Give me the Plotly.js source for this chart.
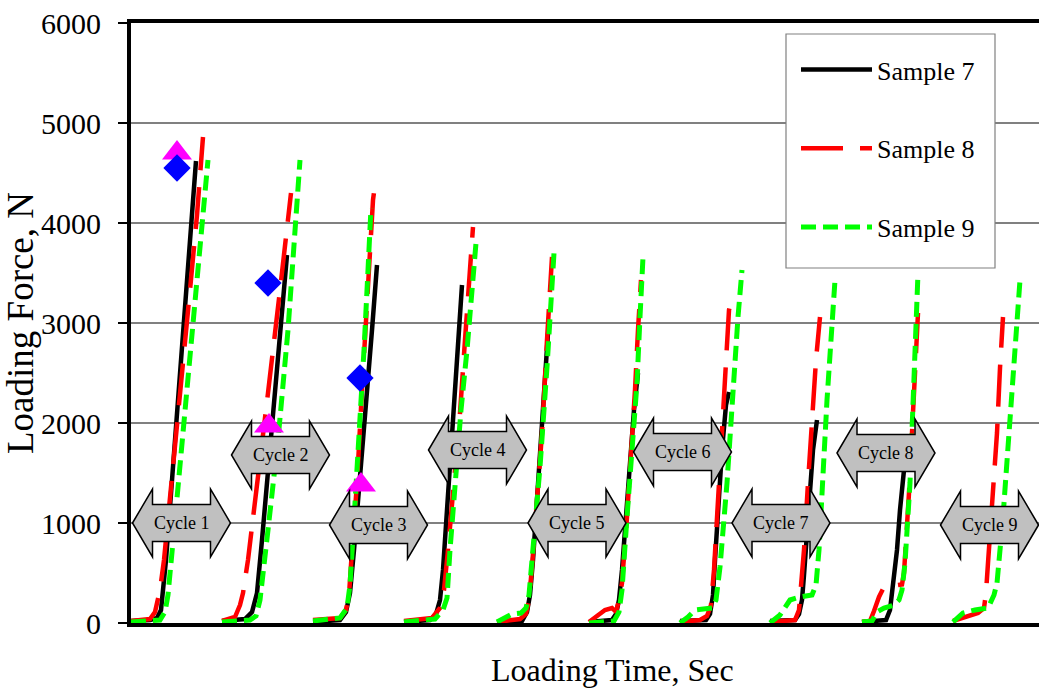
<!DOCTYPE html>
<html>
<head>
<meta charset="utf-8">
<script src="https://cdn.plot.ly/plotly-3.0.1.min.js"></script>
<style>html,body{margin:0;padding:0;overflow:hidden;background:#fff}#chart{width:1039px;height:688px}</style>
</head>
<body>
<div id="chart"></div>
<script>
// Loading time (arbitrary units) and loading force (N); null separates cycles
var sample7Time = [0,19,26,30,35,44,54,62,65, null,
  91,114,121,126,131,139,147,153,156, null,
  182,209,215,219,223,229,235,241,246, null,
  273,299,305,309,312,316,321,326,331, null,
  366,391,396,399,402,406,410,414,417, null,
  458,481,485,488,491,495,499,503,507, null,
  549,575,579,582,584,587,591,595,598, null,
  639,664,668,671,673,676,679,682,686, null,
  731,755,759,763,766,769,773];
var sample7Force = [20,30,50,130,630,1830,3180,4280,4620, null,
  20,40,110,300,830,1730,2630,3330,3680, null,
  10,30,110,300,730,1430,2230,2930,3580, null,
  10,30,90,230,530,1130,1930,2630,3380, null,
  0,20,110,280,630,1230,1930,2530,2900, null,
  10,30,90,230,530,1080,1630,2130,2500, null,
  20,30,90,280,630,1130,1730,2180,2310, null,
  20,30,90,230,480,900,1330,1730,2030, null,
  10,30,130,430,730,1130,1530];

var sample8Time = [0,19,24,29,33,39,49,59,66,72, null,
  91,104,109,112,117,126,137,149,160, null,
  182,209,215,218,221,226,231,237,242,245, null,
  273,301,309,313,317,322,329,334,338,342, null,
  366,389,395,398,401,406,411,416,419,421, null,
  458,467,474,481,485,488,491,496,500,504,507,510, null,
  549,569,576,580,583,587,591,595,598,601, null,
  639,664,668,670,673,677,681,685,689, null,
  731,739,743,748,753,762,771,773,775,778,781,784,787, null,
  822,834,847,853,855,857,861,866,869,872];
var sample8Force = [20,40,110,330,630,1230,2280,3330,4080,4860, null,
  20,60,180,300,630,1360,2300,3330,4300, null,
  30,50,130,280,730,1400,2330,3400,4230,4460, null,
  20,50,150,330,730,1280,2100,2830,3430,3960, null,
  10,40,90,230,560,1230,1900,2830,3430,3660, null,
  10,70,130,150,110,230,400,1060,1630,2330,2930,3430, null,
  10,30,70,180,530,1230,1930,2630,3130,3260, null,
  10,30,130,330,730,1400,2060,2630,3060, null,
  10,20,120,260,360,375,385,500,800,1300,1900,2500,3100, null,
  20,60,100,150,300,600,1150,1900,2550,3060];

var sample9Time = [0,29,34,37,44,54,64,72,77, null,
  91,119,125,129,137,147,157,164,169, null,
  182,209,216,219,223,228,233,237,240, null,
  273,304,312,316,319,324,330,336,341,345, null,
  366,374,381,390,395,398,402,409,416,420,423, null,
  458,483,488,491,496,501,506,509,512, null,
  549,557,564,581,585,589,596,602,607,611, null,
  639,649,659,669,681,685,688,692,696,700,704, null,
  731,741,746,753,763,768,771,774,779,782,785,787, null,
  822,832,844,857,863,866,872,877,882,886,889];
var sample9Force = [10,30,110,280,1030,2130,3230,4080,4630, null,
  10,30,70,230,930,1830,2930,3830,4630, null,
  20,50,150,380,1030,1830,2730,3530,4150, null,
  10,40,130,250,730,1400,2130,2730,3330,3800, null,
  10,60,90,100,150,280,730,1560,2560,3230,3700, null,
  0,20,110,330,1060,1730,2400,3060,3660, null,
  0,60,130,150,230,560,1400,2400,3060,3530, null,
  0,80,230,260,280,380,730,1560,2230,2830,3430, null,
  10,20,110,150,180,230,330,600,1400,2230,2930,3500, null,
  10,100,130,150,280,400,1060,1730,2560,3030,3430];

var seriesNames = ["Sample 7", "Sample 8", "Sample 9"];

var triangleTime = [46, 138, 230];
var triangleForce = [4700, 1970, 1380];
var diamondTime = [46, 137, 229];
var diamondForce = [4550, 3400, 2450];

var cycleLabels = ["Cycle 1","Cycle 2","Cycle 3","Cycle 4","Cycle 5","Cycle 6","Cycle 7","Cycle 8","Cycle 9"];
var cycleTime = [50.5, 149.5, 247.5, 346.5, 446, 551.5, 650, 755, 858.5];
var cycleForce = [1000, 1680, 980, 1730, 1000, 1710, 1000, 1700, 980];

var yTicks = [0,1000,2000,3000,4000,5000,6000];

var FONT = "Liberation Serif, Times New Roman, serif";

var traces = [
  {x: sample7Time, y: sample7Force, name: seriesNames[0], mode: "lines", legendgroup: "a",
   line: {color: "#000000", width: 4.5}, connectgaps: false},
  {x: sample8Time, y: sample8Force, name: seriesNames[1], mode: "lines", legendgroup: "b",
   line: {color: "#FF0000", width: 4.5, dash: "42px,17px"}, connectgaps: false},
  {x: sample9Time, y: sample9Force, name: seriesNames[2], mode: "lines", legendgroup: "c",
   line: {color: "#00FF00", width: 5, dash: "15px,7px"}, connectgaps: false},
  {x: triangleTime, y: triangleForce, mode: "markers", showlegend: false, hoverinfo: "x+y",
   marker: {symbol: "triangle-up", size: 26, color: "#FF00FF"}},
  {x: diamondTime, y: diamondForce, mode: "markers", showlegend: false, hoverinfo: "x+y",
   marker: {symbol: "diamond", size: 21, color: "#0000FF"}}
];

var HW = 49, HL = 20, BH = 185, HH = 340;
var shapes = [];
var annotations = [];
for (var i = 0; i < cycleLabels.length; i++) {
  var cx = cycleTime[i], cy = cycleForce[i];
  var p = "M" + (cx - HW) + "," + cy +
    " L" + (cx - HW + HL) + "," + (cy + HH) +
    " L" + (cx - HW + HL) + "," + (cy + BH) +
    " L" + (cx + HW - HL) + "," + (cy + BH) +
    " L" + (cx + HW - HL) + "," + (cy + HH) +
    " L" + (cx + HW) + "," + cy +
    " L" + (cx + HW - HL) + "," + (cy - HH) +
    " L" + (cx + HW - HL) + "," + (cy - BH) +
    " L" + (cx - HW + HL) + "," + (cy - BH) +
    " L" + (cx - HW + HL) + "," + (cy - HH) + " Z";
  shapes.push({type: "path", xref: "x", yref: "y", path: p, layer: "above",
    fillcolor: "#C0C0C0", line: {color: "#000000", width: 1.5}});
  annotations.push({x: cx, y: cy, xref: "x", yref: "y", text: cycleLabels[i], showarrow: false,
    font: {family: FONT, size: 18, color: "#000"}, xanchor: "center", yanchor: "middle"});
}
// legend frame (white box behind the legend entries)
shapes.push({type: "rect", xref: "paper", yref: "paper",
  x0: (786 - 131) / 908, x1: (995 - 131) / 908, y0: (623 - 268) / 600, y1: (623 - 34) / 600,
  layer: "above", fillcolor: "#fff", line: {color: "#808080", width: 1.2}});

annotations.push({x: 0.53, y: -0.078, xref: "paper", yref: "paper", text: "Loading Time, Sec",
  showarrow: false, font: {family: FONT, size: 32, color: "#000"}, xanchor: "center", yanchor: "middle"});

var layout = {
  width: 1039, height: 688,
  margin: {l: 131, r: 0, t: 23, b: 65, pad: 0},
  paper_bgcolor: "#fff", plot_bgcolor: "#fff",
  showlegend: true,
  font: {family: FONT, color: "#000"},
  xaxis: {range: [0, 908], showticklabels: false, ticks: "", showgrid: false, zeroline: false,
    showline: true, linecolor: "#000", linewidth: 4, mirror: true, fixedrange: true},
  yaxis: {range: [0, 6000], tickvals: yTicks, ticktext: yTicks.map(String), showgrid: true,
    gridcolor: "#808080", gridwidth: 1.5, zeroline: false, showline: true, linecolor: "#000",
    linewidth: 4, ticks: "outside", ticklen: 9, tickwidth: 1.5, tickcolor: "#000",
    ticklabelstandoff: 11,
    tickfont: {family: FONT, size: 30, color: "#000"},
    title: {text: "Loading Force, N", font: {family: FONT, size: 37, color: "#000"}, standoff: 1},
    fixedrange: true},
  legend: {x: (796 - 131) / 908, y: (623 - 46) / 600, xanchor: "left", yanchor: "top",
    bgcolor: "rgba(0,0,0,0)", borderwidth: 0, font: {family: FONT, size: 26, color: "#000"},
    tracegroupgap: 42, itemwidth: 71, traceorder: "grouped"},
  shapes: shapes,
  annotations: annotations
};

Plotly.newPlot("chart", traces, layout, {displayModeBar: false, staticPlot: true});
</script>
</body>
</html>
